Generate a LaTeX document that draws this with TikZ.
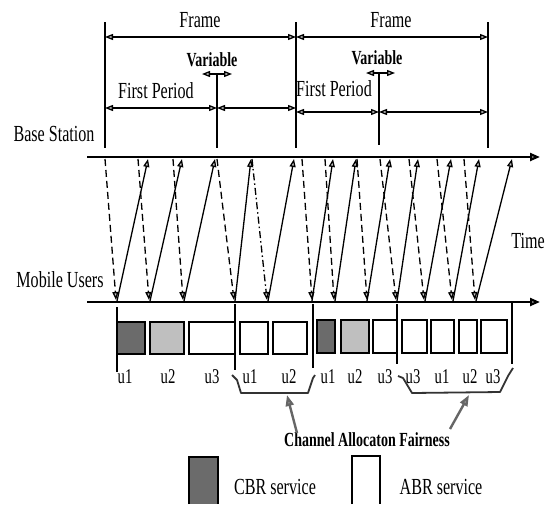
\documentclass[tikz,border=0pt]{standalone}
\usepackage{fontspec}
\newfontfamily\cf{Liberation Serif}[FakeStretch=0.7]
\usetikzlibrary{arrows.meta}
\tikzset{
  lbl/.style={inner sep=0pt, font=\cf\fontsize{23}{26}\selectfont},
  blbl/.style={inner sep=0pt, font=\cf\bfseries\fontsize{20}{24}\selectfont},
  ulbl/.style={inner sep=0pt, font=\cf\fontsize{21}{24}\selectfont},
  >={Triangle[length=8pt,width=6pt,fill=gray!45]},
  axis/.style={line width=2.2pt, -{Triangle[length=10pt,width=8pt,fill=gray!45]}},
  vline/.style={line width=1.5pt},
  dim/.style={line width=1.3pt, <->},
  up/.style={line width=1.3pt, ->},
  dn/.style={line width=1.3pt, ->, dash pattern=on 7pt off 4pt},
  dnd/.style={line width=1.3pt, ->, dash pattern=on 7pt off 3pt on 1.5pt off 3pt},
  slot/.style={line width=1.4pt, draw=black},
  brace/.style={line width=1.8pt, draw=black!80, line join=round},
  pointer/.style={line width=2.4pt, draw=black!60, -{Triangle[length=11pt,width=8pt,fill=gray!55]}},
}
\begin{document}
\begin{tikzpicture}[x=1pt,y=-1pt]
\useasboundingbox (0,0) rectangle (545,504);

% frame markers
\coordinate (f0t) at (105,22);  \coordinate (f0b) at (105,148);
\coordinate (f1t) at (296,22);  \coordinate (f1b) at (296,148);
\coordinate (f2t) at (488,22);  \coordinate (f2b) at (488,148);
\coordinate (v1t) at (217,74);  \coordinate (v1b) at (217,148);
\coordinate (v2t) at (379,73);  \coordinate (v2b) at (379,145);
\draw[vline] (f0t) -- (f0b);
\draw[vline] (f1t) -- (f1b);
\draw[vline] (f2t) -- (f2b);
\draw[vline] (v1t) -- (v1b);
\draw[vline] (v2t) -- (v2b);

% frame dimension arrows
\coordinate (a0) at (105,37); \coordinate (a1) at (296,37); \coordinate (a2) at (488,37);
\draw[dim] (a0) -- (a1);
\draw[dim] (a1) -- (a2);
\coordinate (p0) at (105,108); \coordinate (p1) at (217,108); \coordinate (p2) at (296,108);
\coordinate (q0) at (296,112); \coordinate (q1) at (379,112); \coordinate (q2) at (488,112);
\draw[dim] (p0) -- (p1);
\draw[dim] (p1) -- (p2);
\draw[dim] (q0) -- (q1);
\draw[dim] (q1) -- (q2);
\coordinate (va1) at (202,74); \coordinate (vb1) at (232,74);
\coordinate (va2) at (366,73); \coordinate (vb2) at (395,73);
\draw[dim] (va1) -- (vb1);
\draw[dim] (va2) -- (vb2);

\node[lbl] (fr1) at (200,20) {Frame};
\node[lbl] (fr2) at (391,20) {Frame};
\node[blbl] (var1) at (212,60) {Variable};
\node[blbl] (var2) at (377,58) {Variable};
\node[lbl] (fp1) at (156,91) {First Period};
\node[lbl] (fp2) at (334,89) {First Period};
\node[lbl] (bs) at (54,134) {Base Station};
\node[lbl] (mu) at (60,280) {Mobile Users};
\node[lbl] (tm) at (528,241) {Time};

% time axes
\coordinate (bsL) at (87,157); \coordinate (bsR) at (540,157);
\coordinate (muL) at (87,302); \coordinate (muR) at (540,302);
\draw[axis] (bsL) -- (bsR);
\draw[axis] (muL) -- (muR);

% downlink (dashed) arrows
\foreach \i/\a/\b in {1/105/116, 2/138/149, 3/173/183, 4/217/234, 6/302/312,
  7/325/334, 8/357/367, 9/380/396, 10/409/424, 11/437/452, 12/464/475} {
  \coordinate (dt\i) at (\a,159); \coordinate (db\i) at (\b,300);
  \draw[dn] (dt\i) -- (db\i);
}
\coordinate (dt5) at (252,159); \coordinate (db5) at (267,300);
\draw[dnd] (dt5) -- (db5);

% uplink (solid) arrows
\foreach \i/\a/\b in {1/117/148, 2/150/182, 3/184/215, 4/235/251, 5/268/294,
  6/312/333, 7/335/356, 8/367/390, 9/397/418, 10/425/451, 11/453/479, 12/476/512} {
  \coordinate (ub\i) at (\a,301); \coordinate (ut\i) at (\b,159);
  \draw[up] (ub\i) -- (ut\i);
}

% slot separators
\coordinate (s1t) at (117,307); \coordinate (s1b) at (117,372);
\coordinate (s2t) at (235,304); \coordinate (s2b) at (235,370);
\coordinate (s3t) at (313,304); \coordinate (s3b) at (313,368);
\coordinate (s4t) at (397,304); \coordinate (s4b) at (397,364);
\coordinate (s5t) at (512,303); \coordinate (s5b) at (512,364);
\foreach \i in {1,...,5} { \draw[vline] (s\i t) -- (s\i b); }

% slots
\draw[slot, fill=black!58] (117,322) rectangle (145,354);
\draw[slot, fill=black!25] (150,322) rectangle (184,354);
\draw[slot, fill=white] (189,322) rectangle (235,354);
\draw[slot, fill=white] (240,322) rectangle (268,354);
\draw[slot, fill=white] (273,322) rectangle (307,354);
\draw[slot, fill=black!58] (317,320) rectangle (335,353);
\draw[slot, fill=black!25] (341,320) rectangle (369,353);
\draw[slot, fill=white] (373,320) rectangle (397,353);
\draw[slot, fill=white] (402,320) rectangle (427,353);
\draw[slot, fill=white] (431,320) rectangle (454,353);
\draw[slot, fill=white] (459,320) rectangle (477,353);
\draw[slot, fill=white] (481,320) rectangle (507,353);

% user labels
\foreach \n/\x/\t in {l1/125/u1, l2/168/u2, l3/212/u3, l4/250/u1, l5/289/u2,
  l6/328/u1, l7/355/u2, l8/385/u3, l9/413/u3, l10/442/u1, l11/470/u2, l12/493/u3} {
  \node[ulbl] (\n) at (\x,377) {\t};
}

% fairness brackets
\draw[brace] (232,375) -- (237,380) -- (241,393) -- (308,393) -- (313,378) -- (315,375);
\draw[brace] (398,376) -- (403,378) -- (412,393) -- (500,392) -- (508,376) -- (513,368);

\node[blbl] (caf) at (367,440) {Channel Allocaton Fairness};
\coordinate (pa1) at (297,433); \coordinate (pb1) at (287,395);
\coordinate (pa2) at (450,429); \coordinate (pb2) at (469,395);
\draw[pointer] (pa1) -- (pb1);
\draw[pointer] (pa2) -- (pb2);

% legend
\fill[black!58] (189,457) rectangle (218,504);
\draw[slot] (189,504) -- (189,457) -- (218,457) -- (218,504);
\fill[white] (352,456) rectangle (380,504);
\draw[slot] (352,504) -- (352,456) -- (380,456) -- (380,504);
\node[lbl] (cbr) at (275,487) {CBR service};
\node[lbl] (abr) at (441,487) {ABR service};
\end{tikzpicture}
\end{document}
